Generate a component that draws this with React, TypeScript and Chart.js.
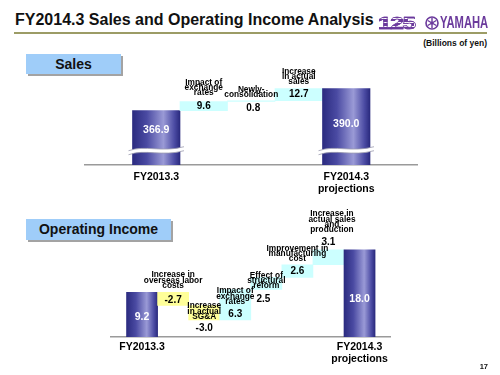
import React, { useEffect, useRef } from "react";
import { Chart, registerables } from "chart.js";

Chart.register(...registerables);

const FONT = "Arial, 'Liberation Sans', Helvetica, sans-serif";

// ---------------- Sales (Billions of yen) ----------------
const salesTickLabels: (string | string[])[] = ["", "FY2013.3", "", "", "", ["FY2014.3", "projections"], ""];
const salesValues = [366.9, 9.6, 0.8, 12.7, 390.0];
const salesKinds = ["total", "delta", "delta", "delta", "total"];
const salesNotes: string[][] = [
  [],
  ["Impact of", "exchange", "rates"],
  ["Newly-", "consolidation"],
  ["Increase", "in actual", "sales"],
  [],
];
const salesValueText = ["366.9", "9.6", "0.8", "12.7", "390.0"];

// ---------------- Operating income (Billions of yen) ----------------
const oiTickLabels: (string | string[])[] = ["", "FY2013.3", "", "", "", "", "", "", ["FY2014.3", "projections"], ""];
const oiValues = [9.2, -2.7, -3.0, 6.3, 2.5, 2.6, 3.1, 18.0];
const oiKinds = ["total", "delta", "delta", "delta", "delta", "delta", "delta", "total"];
const oiNotes: string[][] = [
  [],
  ["Increase in", "overseas labor", "costs"],
  ["Increase", "in actual", "SG&A"],
  ["Impact of", "exchange", "rates"],
  ["Effect of", "structural", "reform"],
  ["Improvement in", "manufacturing", "cost"],
  ["Increase in", "actual sales", "and", "production"],
  [],
];
const oiValueText = ["9.2", "-2.7", "-3.0", "6.3", "2.5", "2.6", "3.1", "18.0"];

type Cfg = {
  ticks: (string | string[])[];
  values: number[];
  kinds: string[];
  notes: string[][];
  valueText: string[];
  base: number;
  yMin: number;
  yMax: number;
  offset: boolean;
  padLeft: number;
  padRight: number;
  padTop: number;
  axisHeight: number;
  tickPad: number;
  height: number;
  top: number;
  labelPos: string[];
  labelDy: number[];
  labelDx: number[];
  noteGap: number[];
  noteDx: number[];
  breakAt?: number;
};

const salesCfg: Cfg = {
  ticks: salesTickLabels,
  values: salesValues,
  kinds: salesKinds,
  notes: salesNotes,
  valueText: salesValueText,
  base: 310,
  yMin: 310,
  yMax: 420,
  offset: true,
  padLeft: 85,
  padRight: 82.5,
  padTop: 5,
  axisHeight: 35,
  tickPad: 6,
  height: 145,
  top: 55,
  labelPos: ["upper", "center", "below", "center", "upper"],
  labelDy: [0, 0, 6.5, 0, 5],
  labelDx: [0, 0, 2, 0, 0],
  noteGap: [0, 8.5, 6, 6.6, 0],
  noteDx: [0, 0, 0, 0, 0],
  breakAt: 326,
};

const oiCfg: Cfg = {
  ticks: oiTickLabels,
  values: oiValues,
  kinds: oiKinds,
  notes: oiNotes,
  valueText: oiValueText,
  base: 0,
  yMin: 0,
  yMax: 26.2,
  offset: false,
  padLeft: 111,
  padRight: 109.4,
  padTop: 5,
  axisHeight: 35,
  tickPad: 4,
  height: 167,
  top: 205,
  labelPos: ["center", "center", "below", "bottomIn", "below", "center", "above", "center"],
  labelDy: [2, 1, 8, -6, 9.5, 0, -7, 6],
  labelDx: [0, 0, 0, 0, -3, 0, 0, 0],
  noteGap: [0, 6.4, -11.5, -12.5, -8.7, 5.7, 19.7, 0],
  noteDx: [0, 0, 0, 0, 0, 0, 3.5, 0],
};

function WaterfallChart({ cfg }: { cfg: Cfg }) {
  const ref = useRef<HTMLCanvasElement>(null);

  useEffect(() => {
    const canvas = ref.current;
    if (!canvas) return;
    const slots = cfg.ticks.length;
    const data: ([number, number] | null)[] = new Array(slots).fill(null);
    const kindAt: string[] = new Array(slots).fill("none");
    let cum = 0;
    cfg.values.forEach((v, i) => {
      if (cfg.kinds[i] === "total") {
        data[i + 1] = [cfg.base, v];
        cum = v;
        kindAt[i + 1] = "total";
      } else {
        const s = cum;
        const e = cum + v;
        data[i + 1] = [Math.min(s, e), Math.max(s, e)];
        cum = e;
        kindAt[i + 1] = v >= 0 ? "up" : "down";
      }
    });

    const bg = (c: any) => {
      const i = c.dataIndex;
      if (i === undefined) return "#333399";
      const k = kindAt[i];
      if (k === "up") return "#ccffff";
      if (k === "down") return "#ffff99";
      const xs = c.chart.scales && c.chart.scales.x;
      if (!xs) return "#333399";
      const cx = xs.getPixelForValue(i);
      const w = Math.abs(xs.getPixelForValue(1) - xs.getPixelForValue(0));
      if (!isFinite(cx) || !isFinite(w) || w <= 0) return "#333399";
      const g = c.chart.ctx.createLinearGradient(cx - w / 2, 0, cx + w / 2, 0);
      g.addColorStop(0, "#2b2b80");
      g.addColorStop(0.3, "#4a4aa2");
      g.addColorStop(0.65, "#9a9ad6");
      g.addColorStop(0.88, "#4c4ca4");
      g.addColorStop(1, "#2a2a7e");
      return g;
    };

    const labelPlugin = {
      id: "wfLabels",
      afterDatasetsDraw(chart: any) {
        const ctx = chart.ctx;
        const meta = chart.getDatasetMeta(0);
        const ys = chart.scales.y;
        ctx.save();
        // axis breaks
        if (cfg.breakAt !== undefined) {
          cfg.values.forEach((_v, i) => {
            if (cfg.kinds[i] !== "total") return;
            const el: any = meta.data[i + 1];
            if (!el) return;
            const yb = ys.getPixelForValue(cfg.breakAt);
            const xl = el.x - el.width / 2 - 4;
            const xr = el.x + el.width / 2 + 4;
            const L = xr - xl;
            ctx.beginPath();
            ctx.moveTo(xl, yb + 1);
            ctx.bezierCurveTo(xl + L * 0.3, yb - 5, xl + L * 0.6, yb + 3, xr, yb - 3);
            ctx.lineTo(xr, yb + 1);
            ctx.bezierCurveTo(xl + L * 0.6, yb + 7, xl + L * 0.3, yb - 1, xl, yb + 5);
            ctx.closePath();
            ctx.fillStyle = "#ffffff";
            ctx.fill();
            ctx.strokeStyle = "#9a9aae";
            ctx.lineWidth = 0.8;
            ctx.beginPath();
            ctx.moveTo(xl, yb + 1);
            ctx.bezierCurveTo(xl + L * 0.3, yb - 5, xl + L * 0.6, yb + 3, xr, yb - 3);
            ctx.stroke();
            ctx.beginPath();
            ctx.moveTo(xr, yb + 1);
            ctx.bezierCurveTo(xl + L * 0.6, yb + 7, xl + L * 0.3, yb - 1, xl, yb + 5);
            ctx.stroke();
          });
        }
        ctx.textAlign = "center";
        ctx.textBaseline = "middle";
        cfg.values.forEach((_v, i) => {
          const el: any = meta.data[i + 1];
          if (!el) return;
          const top = Math.min(el.y, el.base);
          const bottom = Math.max(el.y, el.base);
          const cx = el.x;
          // value label
          const pos = cfg.labelPos[i];
          let ly = (top + bottom) / 2;
          if (pos === "upper") {
            const yb = cfg.breakAt !== undefined ? ys.getPixelForValue(cfg.breakAt) : bottom;
            ly = (top + yb) / 2;
          } else if (pos === "below" || pos === "bottomIn") {
            ly = bottom;
          } else if (pos === "above") {
            ly = top;
          }
          ly += cfg.labelDy[i];
          const total = cfg.kinds[i] === "total";
          ctx.fillStyle = total ? "#ffffff" : "#000000";
          ctx.font = `bold ${total ? 10.5 : 10}px ${FONT}`;
          ctx.fillText(cfg.valueText[i], cx + cfg.labelDx[i], ly);
          // item note
          const lines = cfg.notes[i];
          if (lines.length) {
            ctx.fillStyle = "#000000";
            ctx.font = `bold 8.3px ${FONT}`;
            const lh = 5.4;
            const lastY = top - cfg.noteGap[i];
            lines.forEach((t, j) => {
              const yy = lastY - (lines.length - 1 - j) * lh;
              ctx.fillText(t, cx + cfg.noteDx[i], yy);
            });
          }
        });
        ctx.restore();
      },
    };

    const chart = new Chart(canvas, {
      type: "bar",
      data: {
        labels: cfg.ticks as any,
        datasets: [
          {
            data: data as any,
            backgroundColor: bg as any,
            borderWidth: 0,
            barPercentage: 1,
            categoryPercentage: 1,
          },
        ],
      },
      options: {
        responsive: false,
        animation: false,
        devicePixelRatio: 1,
        layout: { padding: { left: cfg.padLeft, right: cfg.padRight, top: cfg.padTop, bottom: 0 } },
        plugins: { legend: { display: false }, tooltip: { enabled: false } },
        scales: {
          x: {
            type: "category",
            offset: cfg.offset,
            z: 1,
            grid: { display: false, drawTicks: false },
            border: { display: true, color: "#9a9a9a", width: 1.5 },
            ticks: {
              autoSkip: false,
              maxRotation: 0,
              minRotation: 0,
              padding: cfg.tickPad,
              color: "#000000",
              font: { family: FONT, size: 10.5, weight: "bold", lineHeight: 1.15 },
            },
            afterFit: (s: any) => {
              s.height = cfg.axisHeight;
            },
          },
          y: { display: false, min: cfg.yMin, max: cfg.yMax },
        },
      } as any,
      plugins: [labelPlugin],
    });
    return () => chart.destroy();
  }, [cfg]);

  return (
    <canvas
      ref={ref}
      width={500}
      height={cfg.height}
      style={{ position: "absolute", left: 0, top: cfg.top, width: 500, height: cfg.height }}
    />
  );
}

function SectionBox({ text, left, top, width, height }: { text: string; left: number; top: number; width: number; height: number }) {
  return (
    <div
      style={{
        position: "absolute",
        left,
        top,
        width,
        height,
        background: "#9fcdf9",
        boxShadow: "2px 2px 0 #a3a3a3",
        fontFamily: FONT,
        fontWeight: "bold",
        fontSize: 14,
        lineHeight: `${height}px`,
        textAlign: "center",
        color: "#111",
      }}
    >
      {text}
    </div>
  );
}

const PURPLE = "#6b3a9c";

export default function App() {
  return (
    <div
      style={{
        position: "fixed",
        left: 0,
        top: 0,
        width: 500,
        height: 375,
        background: "#ffffff",
        overflow: "hidden",
        fontFamily: FONT,
      }}
    >
      <div
        style={{
          position: "absolute",
          left: 15,
          top: 12,
          fontSize: 16,
          fontWeight: "bold",
          lineHeight: "16px",
          color: "#111",
          whiteSpace: "nowrap",
        }}
      >
        FY2014.3 Sales and Operating Income Analysis
      </div>
      <div style={{ position: "absolute", left: 14, top: 32, width: 473, height: 2, background: "#9c9c66" }} />
      {/* logo */}
      <div
        style={{
          position: "absolute",
          left: 378,
          top: 15,
          fontSize: 17,
          fontWeight: "bold",
          lineHeight: "17px",
          transform: "scaleX(1.45)",
          transformOrigin: "left top",
          letterSpacing: -1,
          background: `repeating-linear-gradient(to bottom, ${PURPLE} 0px, ${PURPLE} 3px, #ffffff 3px, #ffffff 4px)`,
          WebkitBackgroundClip: "text",
          backgroundClip: "text",
          color: "transparent",
          WebkitTextStroke: `0.6px ${PURPLE}`,
        }}
      >
        125
      </div>
      <svg style={{ position: "absolute", left: 425, top: 16 }} width={14} height={14} viewBox="0 0 14 14">
        <circle cx={7} cy={7} r={6} fill="#ffffff" stroke={PURPLE} strokeWidth={1.6} />
        <g stroke={PURPLE} strokeWidth={1.4}>
          <line x1={7} y1={2} x2={7} y2={12} />
          <line x1={2.7} y1={4.5} x2={11.3} y2={9.5} />
          <line x1={2.7} y1={9.5} x2={11.3} y2={4.5} />
        </g>
        <circle cx={7} cy={7} r={1.6} fill={PURPLE} />
      </svg>
      <div
        style={{
          position: "absolute",
          left: 440,
          top: 14,
          fontSize: 17,
          fontWeight: "bold",
          color: PURPLE,
          lineHeight: "17px",
          transform: "scaleX(0.66)",
          transformOrigin: "left top",
        }}
      >
        YAMAHA
      </div>
      <div
        style={{
          position: "absolute",
          right: 13,
          top: 38,
          fontSize: 8.5,
          fontWeight: "bold",
          lineHeight: "10px",
          color: "#111",
        }}
      >
        (Billions of yen)
      </div>
      <SectionBox text="Sales" left={26} top={54} width={95} height={20} />
      <SectionBox text="Operating Income" left={26} top={219} width={145} height={21} />
      <WaterfallChart cfg={salesCfg} />
      <WaterfallChart cfg={oiCfg} />
      <div
        style={{
          position: "absolute",
          right: 12,
          top: 362,
          fontSize: 7.5,
          fontWeight: "bold",
          lineHeight: "9px",
          color: "#111",
        }}
      >
        17
      </div>
    </div>
  );
}
